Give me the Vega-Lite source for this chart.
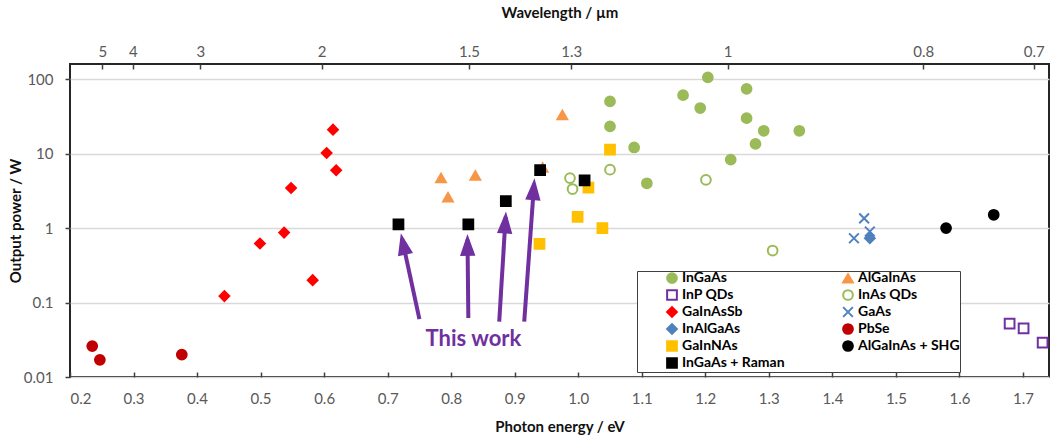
{
  "$schema": "https://vega.github.io/schema/vega-lite/v6.json",
  "width": 979,
  "height": 313,
  "autosize": {"type": "none"},
  "padding": {"left": 70, "top": 64, "right": 6, "bottom": 62},
  "background": "white",
  "config": {
    "font": "Lato",
    "view": {"stroke": "#262626", "strokeWidth": 2},
    "axis": {
      "labelFont": "Lato",
      "labelFontSize": 15,
      "labelColor": "#595959",
      "titleFont": "Lato",
      "titleFontSize": 15,
      "titleFontWeight": "bold",
      "titleColor": "#111111",
      "domain": false,
      "tickColor": "#404040",
      "tickWidth": 1.5,
      "gridColor": "#d9d9d9",
      "gridWidth": 1.5
    }
  },
  "datasets": {
    "lasers": [
      {"series": "InGaAs", "eV": 1.05, "W": 50.3},
      {"series": "InGaAs", "eV": 1.05, "W": 23.2},
      {"series": "InGaAs", "eV": 1.088, "W": 12.1},
      {"series": "InGaAs", "eV": 1.108, "W": 4.0},
      {"series": "InGaAs", "eV": 1.165, "W": 61},
      {"series": "InGaAs", "eV": 1.192, "W": 41},
      {"series": "InGaAs", "eV": 1.204, "W": 106},
      {"series": "InGaAs", "eV": 1.265, "W": 74},
      {"series": "InGaAs", "eV": 1.265, "W": 30},
      {"series": "InGaAs", "eV": 1.292, "W": 20.3},
      {"series": "InGaAs", "eV": 1.348, "W": 20.3},
      {"series": "InGaAs", "eV": 1.279, "W": 13.5},
      {"series": "InGaAs", "eV": 1.24, "W": 8.3},
      {"series": "AlGaInAs", "eV": 0.975, "W": 33},
      {"series": "AlGaInAs", "eV": 0.784, "W": 4.7},
      {"series": "AlGaInAs", "eV": 0.838, "W": 5.1},
      {"series": "AlGaInAs", "eV": 0.795, "W": 2.6},
      {"series": "AlGaInAs", "eV": 0.944, "W": 6.5},
      {"series": "InP QDs", "eV": 1.679, "W": 0.052},
      {"series": "InP QDs", "eV": 1.701, "W": 0.045},
      {"series": "InP QDs", "eV": 1.731, "W": 0.029},
      {"series": "InAs QDs", "eV": 0.987, "W": 4.7},
      {"series": "InAs QDs", "eV": 0.991, "W": 3.35},
      {"series": "InAs QDs", "eV": 1.05, "W": 6.1},
      {"series": "InAs QDs", "eV": 1.201, "W": 4.45},
      {"series": "InAs QDs", "eV": 1.306, "W": 0.5},
      {"series": "GaInAsSb", "eV": 0.614, "W": 21},
      {"series": "GaInAsSb", "eV": 0.604, "W": 10.2},
      {"series": "GaInAsSb", "eV": 0.619, "W": 6.0},
      {"series": "GaInAsSb", "eV": 0.548, "W": 3.45},
      {"series": "GaInAsSb", "eV": 0.537, "W": 0.87},
      {"series": "GaInAsSb", "eV": 0.499, "W": 0.62},
      {"series": "GaInAsSb", "eV": 0.582, "W": 0.2},
      {"series": "GaInAsSb", "eV": 0.443, "W": 0.122},
      {"series": "InAlGaAs", "eV": 1.459, "W": 0.73},
      {"series": "GaAs", "eV": 1.45, "W": 1.35},
      {"series": "GaAs", "eV": 1.434, "W": 0.73},
      {"series": "GaAs", "eV": 1.459, "W": 0.9},
      {"series": "PbSe", "eV": 0.235, "W": 0.026},
      {"series": "PbSe", "eV": 0.247, "W": 0.017},
      {"series": "PbSe", "eV": 0.376, "W": 0.02},
      {"series": "GaInNAs", "eV": 1.05, "W": 11.3},
      {"series": "GaInNAs", "eV": 1.016, "W": 3.5},
      {"series": "GaInNAs", "eV": 0.999, "W": 1.41},
      {"series": "GaInNAs", "eV": 1.038, "W": 1.0},
      {"series": "GaInNAs", "eV": 0.939, "W": 0.615},
      {"series": "AlGaInAs + SHG", "eV": 1.579, "W": 1.0},
      {"series": "AlGaInAs + SHG", "eV": 1.654, "W": 1.51},
      {"series": "InGaAs + Raman", "eV": 0.717, "W": 1.12},
      {"series": "InGaAs + Raman", "eV": 0.827, "W": 1.12},
      {"series": "InGaAs + Raman", "eV": 0.886, "W": 2.31},
      {"series": "InGaAs + Raman", "eV": 0.94, "W": 6.0},
      {"series": "InGaAs + Raman", "eV": 1.01, "W": 4.36}
    ],
    "arrows": [
      {"eV": 0.75, "W": 0.06, "eV2": 0.7226, "W2": 0.723, "heading": -12.2},
      {"eV": 0.827, "W": 0.062, "eV2": 0.8257, "W2": 0.705, "heading": -0.7},
      {"eV": 0.8756, "W": 0.0555, "eV2": 0.8857, "W2": 1.41, "heading": 3.5},
      {"eV": 0.915, "W": 0.0555, "eV2": 0.9305, "W2": 3.95, "heading": 4.1}
    ],
    "notes": [
      {"eV": 0.835, "W": 0.0325, "note": "This work"}
    ]
  },
  "layer": [
    {
      "data": {"name": "lasers"},
      "mark": {"type": "point", "filled": true, "size": 95, "strokeWidth": 2, "opacity": 1},
      "encoding": {
        "x": {
          "field": "eV",
          "type": "quantitative",
          "scale": {"domain": [0.2, 1.741], "nice": false, "zero": false},
          "axis": {
            "orient": "bottom",
            "title": "Photon energy / eV",
            "values": [0.2, 0.3, 0.4, 0.5, 0.6, 0.7, 0.8, 0.9, 1.0, 1.1, 1.2, 1.3, 1.4, 1.5, 1.6, 1.7],
            "format": ".1f",
            "grid": false,
            "tickSize": -5,
            "labelPadding": 19,
            "titlePadding": 13
          }
        },
        "y": {
          "field": "W",
          "type": "quantitative",
          "scale": {"type": "log", "domain": [0.01, 160], "nice": false},
          "axis": {
            "title": "Output power / W",
            "values": [0.01, 0.1, 1, 10, 100],
            "format": "~g",
            "grid": true,
            "tickSize": 5,
            "labelPadding": 12,
            "titlePadding": 0
          }
        },
        "shape": {
          "field": "series",
          "type": "nominal",
          "scale": {
            "domain": ["InGaAs", "InP QDs", "GaInAsSb", "InAlGaAs", "GaInNAs", "InGaAs + Raman", "AlGaInAs", "InAs QDs", "GaAs", "PbSe", "AlGaInAs + SHG"],
            "range": ["circle", "square", "diamond", "diamond", "square", "square", "triangle-up", "circle", "M-1,-1L1,1M-1,1L1,-1", "circle", "circle"]
          },
          "legend": {
            "orient": "none", "legendX": 567, "legendY": 207, "columns": 2, "title": null,
            "padding": 0, "symbolOffset": 28, "columnPadding": 28, "rowPadding": -1, "labelOffset": 3,
            "labelFont": "Lato", "labelFontSize": 14, "labelFontWeight": "bold", "labelColor": "#000000",
            "symbolSize": 95, "symbolStrokeWidth": 2, "strokeColor": "#404040", "fillColor": "white", "labelLimit": 300
          }
        },
        "fill": {
          "field": "series",
          "type": "nominal",
          "scale": {
            "domain": ["InGaAs", "InP QDs", "GaInAsSb", "InAlGaAs", "GaInNAs", "InGaAs + Raman", "AlGaInAs", "InAs QDs", "GaAs", "PbSe", "AlGaInAs + SHG"],
            "range": ["#9bbb59", "transparent", "#ff0000", "#4f81bd", "#ffc000", "#000000", "#f79646", "transparent", "transparent", "#c00000", "#000000"]
          },
          "legend": {
            "orient": "none", "legendX": 567, "legendY": 207, "columns": 2, "title": null,
            "padding": 0, "symbolOffset": 28, "columnPadding": 28, "rowPadding": -1, "labelOffset": 3,
            "labelFont": "Lato", "labelFontSize": 14, "labelFontWeight": "bold", "labelColor": "#000000",
            "symbolSize": 95, "symbolStrokeWidth": 2, "strokeColor": "#404040", "fillColor": "white", "labelLimit": 300
          }
        },
        "stroke": {
          "field": "series",
          "type": "nominal",
          "scale": {
            "domain": ["InGaAs", "InP QDs", "GaInAsSb", "InAlGaAs", "GaInNAs", "InGaAs + Raman", "AlGaInAs", "InAs QDs", "GaAs", "PbSe", "AlGaInAs + SHG"],
            "range": ["#9bbb59", "#7030a0", "#ff0000", "#4f81bd", "#ffc000", "#000000", "#f79646", "#9bbb59", "#4f81bd", "#c00000", "#000000"]
          },
          "legend": {
            "orient": "none", "legendX": 567, "legendY": 207, "columns": 2, "title": null,
            "padding": 0, "symbolOffset": 28, "columnPadding": 28, "rowPadding": -1, "labelOffset": 3,
            "labelFont": "Lato", "labelFontSize": 14, "labelFontWeight": "bold", "labelColor": "#000000",
            "symbolSize": 95, "symbolStrokeWidth": 2, "strokeColor": "#404040", "fillColor": "white", "labelLimit": 300
          }
        }
      }
    },
    {
      "data": {"name": "arrows"},
      "mark": {"type": "rule", "color": "#7030a0", "strokeWidth": 4, "strokeCap": "butt"},
      "encoding": {
        "x": {"field": "eV", "type": "quantitative", "axis": null},
        "y": {"field": "W", "type": "quantitative"},
        "x2": {"field": "eV2"},
        "y2": {"field": "W2"}
      }
    },
    {
      "data": {"name": "arrows"},
      "mark": {"type": "point", "shape": "M0,-0.5L0.7,1.5L-0.7,1.5Z", "filled": true, "size": 484, "color": "#7030a0", "opacity": 1, "strokeWidth": 0},
      "encoding": {
        "x": {"field": "eV2", "type": "quantitative", "axis": null},
        "y": {"field": "W2", "type": "quantitative"},
        "angle": {"field": "heading", "type": "quantitative", "scale": null}
      }
    },
    {
      "data": {"name": "notes"},
      "mark": {"type": "text", "font": "Lato", "fontSize": 22, "fontWeight": "bold", "color": "#7030a0", "align": "center", "baseline": "middle"},
      "encoding": {
        "x": {
          "field": "eV",
          "type": "quantitative",
          "axis": {
            "orient": "top",
            "title": "Wavelength / µm",
            "values": [0.251, 0.299, 0.405, 0.596, 0.828, 0.989, 1.235, 1.543, 1.717],
            "labelExpr": "datum.value < 0.27 ? '5' : datum.value < 0.35 ? '4' : datum.value < 0.5 ? '3' : datum.value < 0.7 ? '2' : datum.value < 0.9 ? '1.5' : datum.value < 1.1 ? '1.3' : datum.value < 1.4 ? '1' : datum.value < 1.6 ? '0.8' : '0.7'",
            "grid": false,
            "tickSize": -5,
            "labelPadding": 9.5,
            "titlePadding": 24
          }
        },
        "y": {"field": "W", "type": "quantitative"},
        "text": {"field": "note"}
      }
    }
  ],
  "resolve": {"axis": {"x": "independent"}}
}
